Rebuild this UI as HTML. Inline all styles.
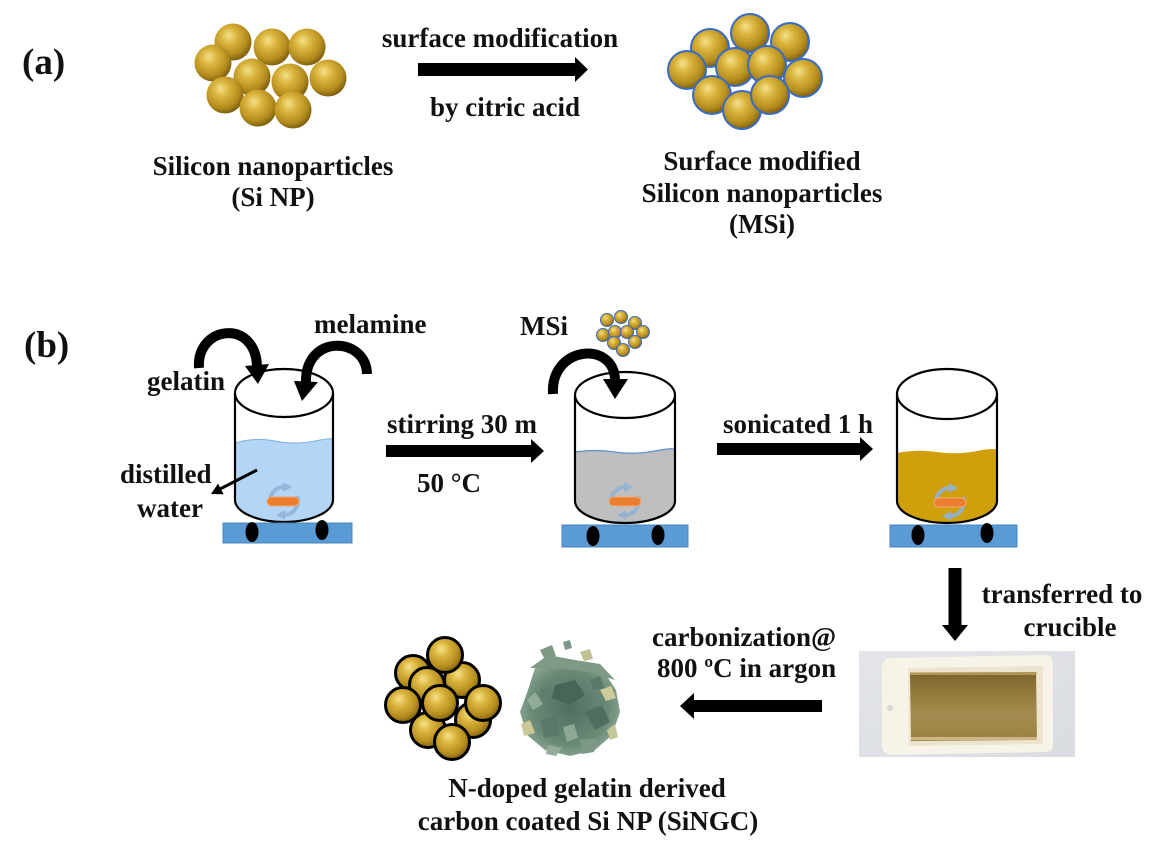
<!DOCTYPE html>
<html>
<head>
<meta charset="utf-8">
<style>
  html, body { margin: 0; padding: 0; background: #ffffff; }
  svg { display: block; }
  text { font-family: "Liberation Serif", "Times New Roman", serif; font-weight: bold; fill: #111; }
</style>
</head>
<body>
<svg width="1167" height="851" viewBox="0 0 1167 851" xmlns="http://www.w3.org/2000/svg">
  <defs>
    <radialGradient id="gold" cx="0.42" cy="0.38" r="0.64" fx="0.38" fy="0.32">
      <stop offset="0" stop-color="#f6e08a"/>
      <stop offset="0.35" stop-color="#d9b43c"/>
      <stop offset="0.75" stop-color="#b48c1e"/>
      <stop offset="1" stop-color="#7a5c0c"/>
    </radialGradient>
    <radialGradient id="powder" cx="0.5" cy="0.5" r="0.55">
      <stop offset="0" stop-color="#4f6f5f"/>
      <stop offset="0.7" stop-color="#6a8a78"/>
      <stop offset="1" stop-color="#8ea895"/>
    </radialGradient>
    <linearGradient id="liq" x1="0" y1="0" x2="0" y2="1">
      <stop offset="0" stop-color="#7a6330"/>
      <stop offset="0.25" stop-color="#8e7638"/>
      <stop offset="0.6" stop-color="#a48c50"/>
      <stop offset="1" stop-color="#9a8244"/>
    </linearGradient>
    <linearGradient id="photobg" x1="0" y1="0" x2="1" y2="1">
      <stop offset="0" stop-color="#e3e5e9"/>
      <stop offset="1" stop-color="#d9dce1"/>
    </linearGradient>
  </defs>

  <!-- (a) -->
  <text x="22" y="74" font-size="37">(a)</text>

  <!-- Si NP cluster -->
  <g fill="url(#gold)">
    <circle cx="233" cy="42" r="18.5"/>
    <circle cx="272" cy="47" r="18.5"/>
    <circle cx="307" cy="47" r="18.5"/>
    <circle cx="213" cy="63" r="18.5"/>
    <circle cx="252" cy="77" r="18.5"/>
    <circle cx="290" cy="82" r="18.5"/>
    <circle cx="328" cy="78" r="18.5"/>
    <circle cx="225" cy="95" r="18.5"/>
    <circle cx="258" cy="108" r="18.5"/>
    <circle cx="293" cy="110" r="18.5"/>
  </g>

  <text x="500" y="47" font-size="27" text-anchor="middle">surface modification</text>
  <rect x="418" y="63" width="159" height="13" fill="#000"/>
  <polygon points="575,57 588,69.5 575,82" fill="#000"/>
  <text x="505" y="116" font-size="27" text-anchor="middle">by citric acid</text>

  <!-- MSi cluster -->
  <g fill="url(#gold)" stroke="#3a6cc2" stroke-width="2">
    <circle cx="750" cy="33" r="19"/>
    <circle cx="710" cy="48" r="19"/>
    <circle cx="790" cy="42" r="19"/>
    <circle cx="687" cy="70" r="19"/>
    <circle cx="735" cy="67" r="19"/>
    <circle cx="767" cy="65" r="19"/>
    <circle cx="803" cy="78" r="19"/>
    <circle cx="712" cy="95" r="19"/>
    <circle cx="742" cy="110" r="19"/>
    <circle cx="770" cy="95" r="19"/>
  </g>

  <text x="273" y="175" font-size="27" text-anchor="middle">Silicon nanoparticles</text>
  <text x="273" y="206" font-size="27" text-anchor="middle">(Si NP)</text>
  <text x="762" y="170" font-size="27" text-anchor="middle">Surface modified</text>
  <text x="762" y="202" font-size="27" text-anchor="middle">Silicon nanoparticles</text>
  <text x="762" y="233" font-size="27" text-anchor="middle">(MSi)</text>

  <!-- (b) -->
  <text x="24" y="357" font-size="37">(b)</text>

  <text x="314" y="333" font-size="27">melamine</text>
  <text x="147" y="390" font-size="27">gelatin</text>
  <text x="120" y="483" font-size="27">distilled</text>
  <text x="137" y="517" font-size="27">water</text>

  <!-- Beaker 1 -->
  <g>
    <path d="M235,393 L235,500 A49,22 0 0 0 333,500 L333,393 Z" fill="#fff"/>
    <path d="M235,443 Q255,437 275,441 T315,441 T333,440 L333,500 A49,22 0 0 1 235,500 Z" fill="#b3d6f6"/>
    <path d="M235,443 Q255,437 275,441 T315,441 T333,440" fill="none" stroke="#7fb0e0" stroke-width="1"/>
    <path d="M235,393 L235,500 A49,22 0 0 0 333,500 L333,393" fill="none" stroke="#000" stroke-width="2.2"/>
    <ellipse cx="284" cy="393" rx="49" ry="24" fill="#fff" stroke="#000" stroke-width="2.2"/>
    <g fill="none" stroke="#8fb2d6" stroke-width="4" opacity="0.85">
      <path d="M271,506 A14,14 0 0 1 284,487"/>
      <path d="M297,496 A14,14 0 0 1 284,515"/>
    </g>
    <polygon points="283,482 292,487 283,492" fill="#8fb2d6" opacity="0.85"/>
    <polygon points="285,510 276,515 285,520" fill="#8fb2d6" opacity="0.85"/>
    <rect x="267" y="497" width="32" height="9" rx="4.5" fill="#ed7d31" stroke="#f4a872" stroke-width="1"/>
  </g>
  <rect x="223" y="523" width="129" height="20" fill="#5b9bd5" stroke="#4a84bc" stroke-width="1"/>
  <ellipse cx="252" cy="532" rx="6.5" ry="10" fill="#000"/>
  <ellipse cx="322" cy="530" rx="6.5" ry="10" fill="#000"/>

  <!-- gelatin arrow -->
  <path d="M199,368 C196,326 255,318 257,366" fill="none" stroke="#000" stroke-width="10"/>
  <polygon points="245,366 269,364 258,384" fill="#000"/>
  <!-- melamine arrow -->
  <path d="M367,374 C366,336 305,334 306,382" fill="none" stroke="#000" stroke-width="10"/>
  <polygon points="294,381 318,382 302,401" fill="#000"/>

  <!-- distilled pointer -->
  <line x1="257" y1="470" x2="220" y2="489" stroke="#000" stroke-width="3"/>
  <polygon points="211,494 218,483.6 223.6,494.2" fill="#000"/>

  <!-- stirring arrow -->
  <text x="387" y="433" font-size="27">stirring 30 m</text>
  <rect x="386" y="445" width="147" height="12" fill="#000"/>
  <polygon points="531,439 544,451 531,463" fill="#000"/>
  <text x="417" y="492" font-size="27">50 °C</text>

  <!-- MSi small cluster -->
  <text x="520" y="335" font-size="27">MSi</text>
  <g fill="url(#gold)" stroke="#3a6cc2" stroke-width="1">
    <circle cx="607" cy="320" r="6.5"/>
    <circle cx="621" cy="317" r="6.5"/>
    <circle cx="635" cy="323" r="6.5"/>
    <circle cx="603" cy="335" r="6.5"/>
    <circle cx="615" cy="332" r="6.5"/>
    <circle cx="627" cy="332" r="6.5"/>
    <circle cx="643" cy="332" r="6.5"/>
    <circle cx="614" cy="343" r="6.5"/>
    <circle cx="635" cy="342" r="6.5"/>
    <circle cx="623" cy="350" r="6.5"/>
  </g>

  <!-- Beaker 2 -->
  <g>
    <path d="M575,395 L575,501 A50,22 0 0 0 675,501 L675,395 Z" fill="#fff"/>
    <path d="M575,452 Q595,449 615,452 T655,451 T675,450 L675,501 A50,22 0 0 1 575,501 Z" fill="#bfbfbf"/>
    <path d="M575,452 Q595,449 615,452 T655,451 T675,450" fill="none" stroke="#5d8fd0" stroke-width="1.2"/>
    <path d="M575,395 L575,501 A50,22 0 0 0 675,501 L675,395" fill="none" stroke="#000" stroke-width="2.2"/>
    <ellipse cx="625" cy="395" rx="50" ry="23" fill="#fff" stroke="#000" stroke-width="2.2"/>
    <g fill="none" stroke="#8fb2d6" stroke-width="4" opacity="0.85">
      <path d="M612,506 A14,14 0 0 1 625,487"/>
      <path d="M638,496 A14,14 0 0 1 625,515"/>
    </g>
    <polygon points="624,482 633,487 624,492" fill="#8fb2d6" opacity="0.85"/>
    <polygon points="626,510 617,515 626,520" fill="#8fb2d6" opacity="0.85"/>
    <rect x="609" y="497" width="32" height="9" rx="4.5" fill="#ed7d31" stroke="#f4a872" stroke-width="1"/>
  </g>
  <rect x="562" y="525" width="126" height="22" fill="#5b9bd5" stroke="#4a84bc" stroke-width="1"/>
  <ellipse cx="593" cy="536" rx="6.5" ry="10" fill="#000"/>
  <ellipse cx="658" cy="535" rx="6.5" ry="10" fill="#000"/>

  <!-- MSi arrow -->
  <path d="M553,394 C550,346 614,340 615,380" fill="none" stroke="#000" stroke-width="10"/>
  <polygon points="603,379 628,379 615,399" fill="#000"/>

  <!-- sonicated arrow -->
  <text x="723" y="433" font-size="27">sonicated 1 h</text>
  <rect x="717" y="443" width="145" height="12" fill="#000"/>
  <polygon points="860,437 873,449 860,461" fill="#000"/>

  <!-- Beaker 3 -->
  <g>
    <path d="M897,394 L897,501 A50,22 0 0 0 997,501 L997,394 Z" fill="#fff"/>
    <path d="M897,453 Q917,449 937,452 T977,451 T997,451 L997,501 A50,22 0 0 1 897,501 Z" fill="#d0a00c"/>
    <path d="M897,394 L897,501 A50,22 0 0 0 997,501 L997,394" fill="none" stroke="#000" stroke-width="2.2"/>
    <ellipse cx="947" cy="394" rx="50" ry="25" fill="#fff" stroke="#000" stroke-width="2.2"/>
    <g fill="none" stroke="#8fb2d6" stroke-width="4" opacity="0.9">
      <path d="M937,507 A14,14 0 0 1 950,488"/>
      <path d="M963,497 A14,14 0 0 1 950,516"/>
    </g>
    <polygon points="949,483 958,488 949,493" fill="#8fb2d6" opacity="0.9"/>
    <polygon points="951,511 942,516 951,521" fill="#8fb2d6" opacity="0.9"/>
    <rect x="934" y="498" width="32" height="9" rx="4.5" fill="#ed7d31" stroke="#f4a872" stroke-width="1"/>
  </g>
  <rect x="890" y="525" width="127" height="22" fill="#5b9bd5" stroke="#4a84bc" stroke-width="1"/>
  <ellipse cx="918" cy="535" rx="6.5" ry="10" fill="#000"/>
  <ellipse cx="987" cy="533" rx="6.5" ry="10" fill="#000"/>

  <!-- down arrow -->
  <rect x="948.5" y="568" width="13" height="59" fill="#000"/>
  <polygon points="942,625 968,625 955,641" fill="#000"/>
  <text x="1062" y="603" font-size="27" text-anchor="middle">transferred to</text>
  <text x="1070" y="636" font-size="27" text-anchor="middle">crucible</text>

  <!-- crucible photo -->
  <rect x="859" y="651" width="216" height="106" fill="url(#photobg)"/>
  <path d="M892,658 L1045,655 Q1053,655 1053,664 L1053,745 Q1053,752 1045,752 L892,755 Q882,755 882,745 L882,668 Q882,658 892,658 Z" fill="#f7f3e8"/>
  <path d="M908,668 L1043,666 L1043,744 L909,746 Z" fill="#ece4cf"/>
  <path d="M910,673 L1036,672 L1037,740 L911,741 Z" fill="url(#liq)"/>
  <rect x="910" y="672" width="127" height="3" fill="#c8a868" opacity="0.7"/>
  <rect x="911" y="737" width="126" height="3" fill="#d8c394" opacity="0.8"/>
  <circle cx="890" cy="708" r="3.2" fill="#dcdad2"/>

  <!-- left arrow -->
  <text x="652" y="646" font-size="27">carbonization@</text>
  <text x="657" y="677" font-size="27">800 ºC in argon</text>
  <rect x="692" y="700" width="130" height="12" fill="#000"/>
  <polygon points="694,693 680,706 694,719" fill="#000"/>

  <!-- SiNGC cluster -->
  <g fill="url(#gold)" stroke="#000" stroke-width="3">
    <circle cx="413" cy="673" r="17.5"/>
    <circle cx="462" cy="680" r="17.5"/>
    <circle cx="445" cy="655" r="17.5"/>
    <circle cx="427" cy="685" r="17.5"/>
    <circle cx="403" cy="705" r="17.5"/>
    <circle cx="473" cy="720" r="17.5"/>
    <circle cx="483" cy="703" r="17.5"/>
    <circle cx="428" cy="730" r="17.5"/>
    <circle cx="440" cy="703" r="17.5"/>
    <circle cx="452" cy="742" r="17.5"/>
  </g>

  <!-- green powder -->
  <g>
    <path d="M528,690 L535,668 L555,660 L580,662 L603,670 L616,690 L620,712 L612,735 L595,750 L570,756 L545,750 L527,735 L520,712 Z" fill="url(#powder)"/>
    <polygon points="530,668 548,655 575,660 600,664 615,680 590,672 560,668" fill="#7e9a86"/>
    <polygon points="555,685 575,680 585,695 570,705 552,698" fill="#476656"/>
    <polygon points="585,712 602,705 610,722 595,730" fill="#4f6f5e"/>
    <polygon points="540,720 556,715 560,735 545,738" fill="#58786a"/>
    <polygon points="563,727 574,724 578,738 567,742" fill="#8ea896"/>
    <polygon points="527,700 535,692 543,704 533,710" fill="#93ab99"/>
    <polygon points="600,690 611,686 616,698 606,701" fill="#cfcb9c"/>
    <polygon points="521,724 530,720 535,733 524,736" fill="#cdc898"/>
    <polygon points="607,730 615,724 618,737 610,740" fill="#c6c698"/>
    <polygon points="540,650 552,645 556,656 545,660" fill="#7f9884"/>
    <polygon points="563,642 570,640 572,648 565,650" fill="#7f988a"/>
    <polygon points="580,652 590,649 593,659 584,661" fill="#c2bf92"/>
    <polygon points="580,740 598,738 594,752 582,754" fill="#7e9888"/>
    <polygon points="548,745 562,748 556,756 546,754" fill="#95ab9b"/>
    <polygon points="590,680 600,676 604,688 594,690" fill="#5a7868"/>
    <polygon points="540,690 550,686 552,696 542,698" fill="#5e7d6c"/>
  </g>

  <text x="587" y="797" font-size="27" text-anchor="middle">N-doped gelatin derived</text>
  <text x="588" y="830" font-size="27" text-anchor="middle">carbon coated Si NP (SiNGC)</text>
</svg>
</body>
</html>
